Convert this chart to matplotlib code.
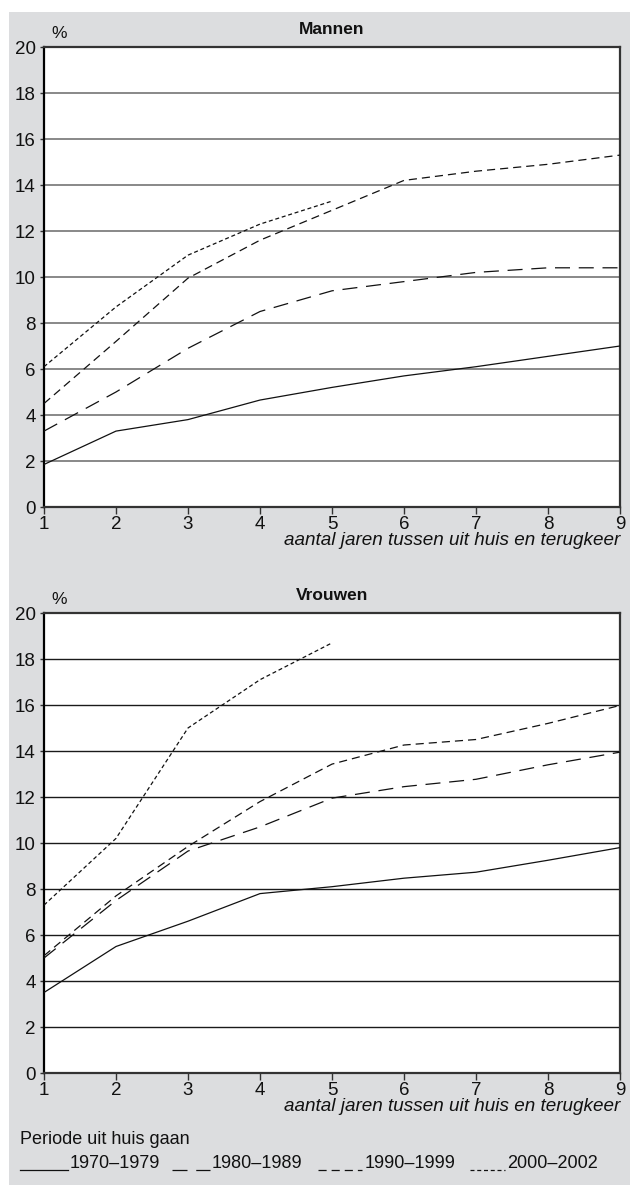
import matplotlib
matplotlib.use("Agg")
import matplotlib.pyplot as plt
from matplotlib.lines import Line2D
from matplotlib.patches import Rectangle

plt.rcParams['font.family'] = ['Liberation Sans', 'DejaVu Sans']

years = [1, 2, 3, 4, 5, 6, 7, 8, 9]
periods = ['1970–1979', '1980–1989', '1990–1999', '2000–2002']

mannen = {
    '1970–1979': [1.85, 3.3, 3.8, 4.65, 5.2, 5.7, 6.1, 6.55, 7.0],
    '1980–1989': [3.3, 5.0, 6.9, 8.5, 9.4, 9.8, 10.2, 10.4, 10.4],
    '1990–1999': [4.5, 7.2, 9.95, 11.6, 12.9, 14.2, 14.6, 14.9, 15.3],
    '2000–2002': [6.1, 8.7, 10.95, 12.3, 13.3],
}
vrouwen = {
    '1970–1979': [3.5, 5.5, 6.6, 7.8, 8.1, 8.47, 8.73, 9.25, 9.8],
    '1980–1989': [5.0, 7.5, 9.65, 10.7, 11.95, 12.45, 12.77, 13.4, 13.95],
    '1990–1999': [5.1, 7.7, 9.85, 11.8, 13.43, 14.26, 14.5, 15.2, 15.98],
    '2000–2002': [7.3, 10.2, 15.0, 17.1, 18.7],
}
panel_titles = ['Mannen', 'Vrouwen']
yticks = [0, 2, 4, 6, 8, 10, 12, 14, 16, 18, 20]
xlabel = 'aantal jaren tussen uit huis en terugkeer'
legend_title = 'Periode uit huis gaan'

styles = {
    '1970–1979': dict(linestyle='-'),
    '1980–1989': dict(dashes=(12, 7)),
    '1990–1999': dict(dashes=(6.5, 4)),
    '2000–2002': dict(dashes=(3.2, 2.2)),
}

W, H = 630, 1185
fig = plt.figure(figsize=(W / 100, H / 100), dpi=100, facecolor='white')
bg = '#dcdddf'
fig.add_artist(Rectangle((9 / W, 0), 1 - 9 / W, 1 - 12 / H, transform=fig.transFigure,
                         facecolor=bg, edgecolor='none', zorder=-10))

def fx(px):
    return px / W

def fy(py):
    return 1 - py / H

panels = [(47, 507, mannen, '#7f7f7f', 1.3), (613, 1073, vrouwen, '#1a1a1a', 1.0)]
for (top, bot, data, gcol, glw), title in zip(panels, panel_titles):
    ax = fig.add_axes([fx(44), fy(bot), fx(620) - fx(44), fy(top) - fy(bot)])
    ax.set_facecolor('white')
    ax.set_xlim(1, 9)
    ax.set_ylim(0, 20)
    for y in yticks[1:-1]:
        ax.axhline(y, color=gcol, lw=glw, zorder=1)
    for p in periods:
        vals = data[p]
        ax.plot(years[:len(vals)], vals, color='#111111', lw=0.9, zorder=3, **styles[p])
    ax.set_xticks(years)
    ax.set_yticks(yticks)
    ax.tick_params(axis='x', direction='out', length=5, width=1, color='#333333',
                   labelsize=13.5, pad=1.5, labelcolor='#111111')
    ax.tick_params(axis='y', direction='out', length=3, width=1, color='#333333',
                   labelsize=13.5, pad=3, labelcolor='#111111')
    for s in ax.spines.values():
        s.set_color('#333333')
        s.set_linewidth(1.6)
    ax.spines['left'].set_color('#000000')
    ax.text(0.5, 1.022, title, transform=ax.transAxes, ha='center', va='bottom',
            fontsize=12.5, fontweight='bold', color='#111111')
    ax.text(0.012, 1.012, '%', transform=ax.transAxes, ha='left', va='bottom',
            fontsize=12.5, color='#111111')
    ax.text(1.0, -0.055, xlabel, transform=ax.transAxes, ha='right', va='top',
            fontsize=13.6, fontstyle='italic', color='#111111')

# legend
fig.text(fx(20), fy(1140), legend_title, ha='left', va='center', fontsize=13, color='#111111')
legend_items = [(20, 68, 70), (172, 210, 212), (318, 362, 365), (470, 505, 507)]
for p, (x0, x1, xt) in zip(periods, legend_items):
    fig.add_artist(Line2D([fx(x0), fx(x1)], [fy(1170), fy(1170)], transform=fig.transFigure,
                          color='#111111', lw=0.9, **styles[p]))
    fig.text(fx(xt), fy(1163), p, ha='left', va='center', fontsize=13, color='#111111')

fig.savefig('out.png', dpi=100, facecolor=fig.get_facecolor())
